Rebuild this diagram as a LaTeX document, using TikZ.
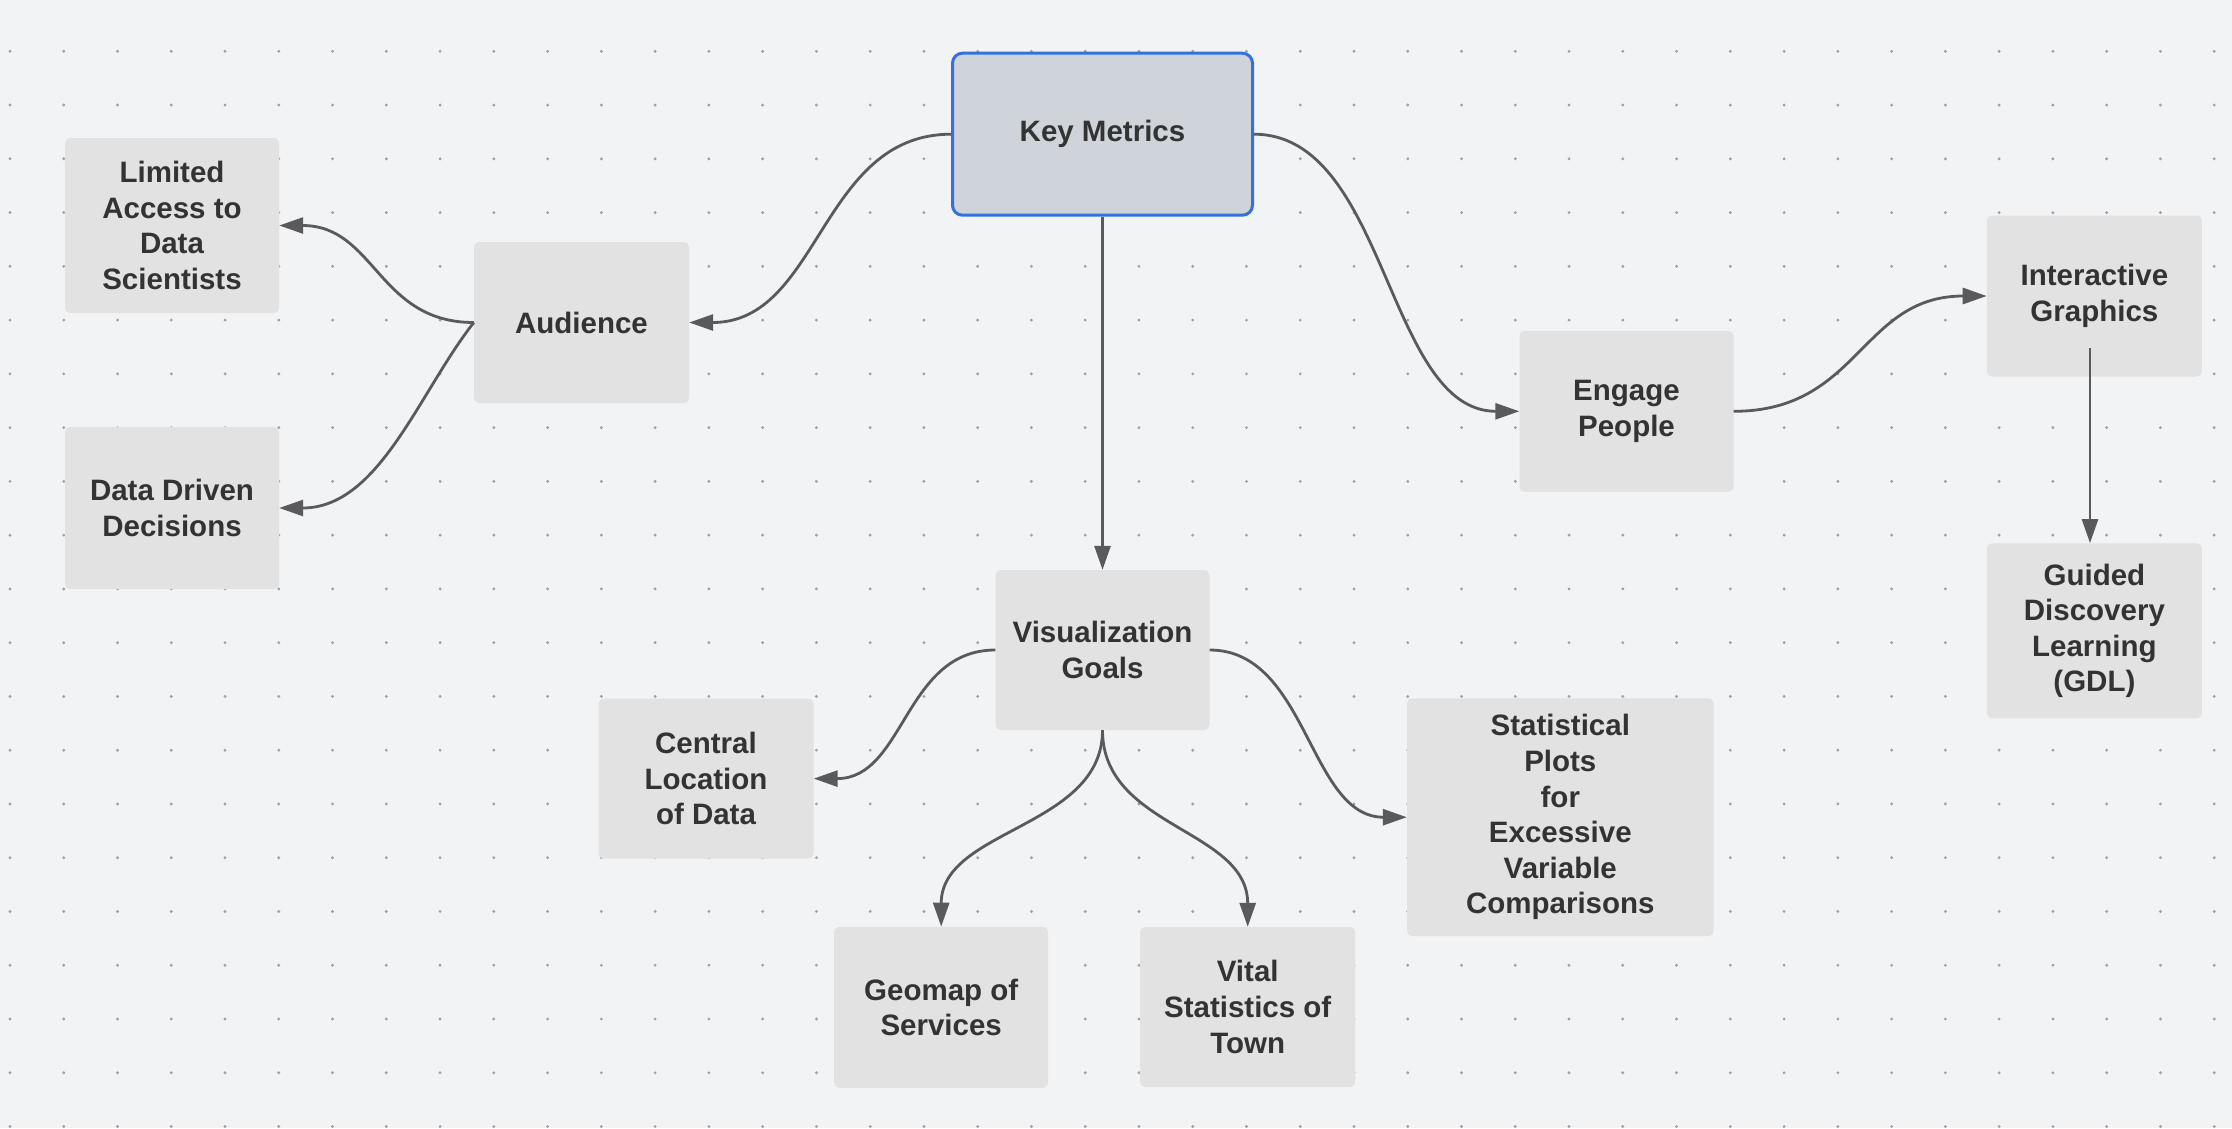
\documentclass[tikz,border=0pt]{standalone}
\usepackage{fontspec}
\setmainfont{Liberation Sans}
\usetikzlibrary{arrows.meta,calc}
\definecolor{bgc}{HTML}{F2F3F5}
\definecolor{dotc}{HTML}{9DA1A7}
\definecolor{boxc}{HTML}{E2E2E2}
\definecolor{kmfill}{HTML}{CFD4DB}
\definecolor{kmborder}{HTML}{3272D9}
\definecolor{linec}{HTML}{5A5A5C}
\definecolor{txtc}{HTML}{333333}
\begin{document}
\begin{tikzpicture}[x=1pt,y=-1pt,
  box/.style={rectangle,rounded corners=5pt,fill=boxc,draw=none,align=center,
    text=txtc,font=\fontsize{29.5}{35.6}\selectfont\bfseries,inner sep=0pt},
  kmbox/.style={box,fill=kmfill,draw=kmborder,line width=3pt,rounded corners=10pt},
  conn/.style={draw=linec,line width=2.8pt,-{Triangle[length=24pt,width=16pt]}}]
\fill[bgc] (0,0) rectangle (2232,1128);
\useasboundingbox (0,0) rectangle (2232,1128);
\foreach \i in {0,...,41}{\foreach \j in {0,...,20}{%
  \fill[dotc] (10+\i*53.76, 51.3+\j*53.76) circle (1.6pt);}}
% nodes
\node[kmbox,minimum width=300pt,minimum height=162pt] (km) at (1102.5,134.2) {Key Metrics};
\node[box,minimum width=214pt,minimum height=175pt] (lim) at (172,225.5) {Limited\\Access to\\Data\\Scientists};
\node[box,minimum width=214pt,minimum height=162pt] (dd) at (172,508) {Data Driven\\Decisions};
\node[box,minimum width=215pt,minimum height=161pt] (aud) at (581.5,322.5) {Audience};
\node[box,minimum width=214pt,minimum height=161pt] (eng) at (1626.5,411.3) {Engage\\People};
\node[box,minimum width=215pt,minimum height=161pt] (ig) at (2094.4,296) {Interactive\\Graphics};
\node[box,minimum width=215pt,minimum height=175pt] (gdl) at (2094.4,630.8) {Guided\\Discovery\\Learning\\(GDL)};
\node[box,minimum width=214pt,minimum height=160pt] (vis) at (1102.5,650) {Visualization\\Goals};
\node[box,minimum width=215pt,minimum height=160pt] (cl) at (706,778.6) {Central\\Location\\of Data};
\node[box,minimum width=306.6pt,minimum height=237.7pt] (sp) at (1560.3,817.2) {Statistical\\Plots\\for\\Excessive\\Variable\\Comparisons};
\node[box,minimum width=214pt,minimum height=161pt] (geo) at (941.2,1007.3) {Geomap of\\Services};
\node[box,minimum width=215pt,minimum height=160pt] (vit) at (1247.7,1007) {Vital\\Statistics of\\Town};
% connectors
\draw[conn] (km.west) .. controls +(-131,0) and +(131,0) .. (aud.east);
\draw[conn] (km.east) .. controls +(133,0) and +(-133,0) .. (eng.west);
\draw[conn] (km.south) -- (vis.north);
\draw[conn] (aud.west) .. controls +(-96,0) and +(96,0) .. (lim.east);
\draw[conn] (aud.west) .. controls +(-55,70) and +(100,0) .. (dd.east);
\draw[conn] (eng.east) .. controls +(126,0) and +(-126,0) .. (ig.west);
\coordinate (igs) at (2090,348);
\draw[conn] (igs) -- (igs |- gdl.north);
\draw[conn] (vis.west) .. controls +(-91,0) and +(91,0) .. (cl.east);
\draw[conn] (vis.east) .. controls +(98,0) and +(-98,0) .. (sp.west);
\draw[conn] (vis.south) .. controls +(0,98) and +(0,-98) .. (geo.north);
\draw[conn] (vis.south) .. controls +(0,98) and +(0,-98) .. (vit.north);
\end{tikzpicture}
\end{document}
